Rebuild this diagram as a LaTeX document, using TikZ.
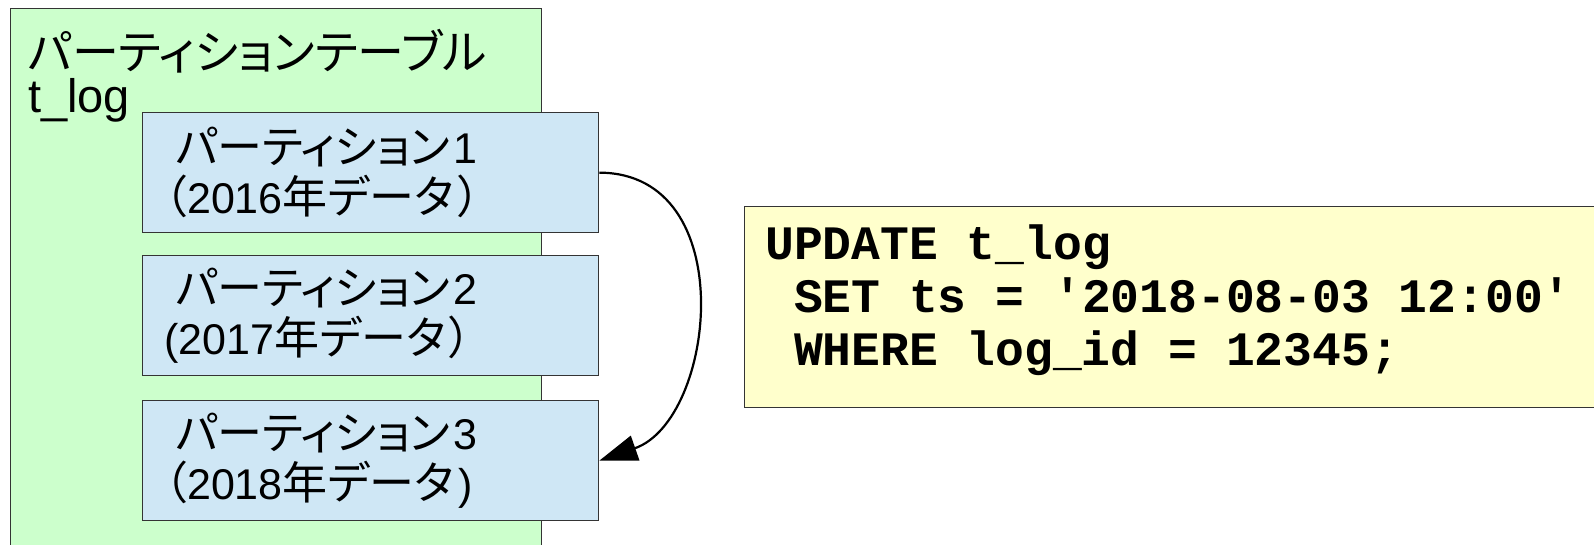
\documentclass[tikz,border=0pt]{standalone}
\usepackage{fontspec}
\setmainfont{Liberation Sans}
\setmonofont{Liberation Mono}
\newfontfamily\jp{Noto Sans CJK JP}[RawFeature=+palt]
\newfontfamily\jpp{Noto Sans CJK JP}[RawFeature=+palt,Scale=1.047]
\usetikzlibrary{arrows.meta}
\definecolor{tblgreen}{RGB}{204,255,204}
\definecolor{partblue}{RGB}{207,231,245}
\definecolor{codeyellow}{RGB}{255,255,204}
\definecolor{edgegray}{RGB}{52,52,52}
\newcommand\csp{\hspace{0.6em}}
\begin{document}
\begin{tikzpicture}[x=1pt,y=-1pt,
  tablebox/.style={draw=edgegray, line width=1.3pt, fill=tblgreen, inner sep=0pt, anchor=north west},
  titletext/.style={inner sep=0pt, anchor=base west, font=\fontsize{47pt}{50pt}\selectfont},
  partbox/.style={draw=edgegray, line width=1.3pt, fill=partblue, anchor=north west,
    minimum width=456pt, minimum height=120pt, text width=420pt, inner xsep=18pt, inner ysep=0pt,
    align=left, font=\fontsize{43pt}{50pt}\selectfont},
  codebox/.style={draw=edgegray, line width=1.3pt, fill=codeyellow, anchor=north west,
    minimum width=900pt, minimum height=201pt, inner sep=0pt},
  codetext/.style={anchor=north west, inner sep=0pt, align=left,
    font=\ttfamily\bfseries\fontsize{48pt}{53pt}\selectfont},
  flow/.style={line width=2.2pt, -{Triangle[length=38pt,width=26pt]}}]
\useasboundingbox (0,0) rectangle (1594,545);
\node[tablebox, minimum width=531pt, minimum height=580pt] (tbl) at (10,8) {};
\node[titletext] (title) at (28,70) {{\jp パーティションテーブル}};
\node[titletext] (tname) at (28,113) {t\_log};
\node[partbox] (p1) at (142,112) {\hspace*{15pt}{\jpp パーティション}\kern3pt 1\\\hspace*{4pt}{\jpp （}2016{\jpp 年データ\kern4pt ）}};
\node[partbox] (p2) at (142,255) {\hspace*{15pt}{\jpp パーティション}\kern3pt 2\\\hspace*{4pt}(2017{\jpp 年データ\kern4pt ）}};
\node[partbox] (p3) at (142,400) {\hspace*{15pt}{\jpp パーティション}\kern3pt 3\\\hspace*{4pt}{\jpp （}2018{\jpp 年データ}\kern5pt )};
\node[codebox] (sql) at (744,206) {};
\node[codetext] (sqltxt) at (765,214) {\rule{0pt}{45pt}UPDATE\csp t\_log\\\hspace*{0.6em}SET\csp ts\csp =\csp '2018-08-03\csp 12:00'\\\hspace*{0.6em}WHERE\csp log\_id\csp =\csp 12345;};
\draw[flow] (p1.east) .. controls (742,173) and (716,420) .. (p3.east);
\end{tikzpicture}
\end{document}
